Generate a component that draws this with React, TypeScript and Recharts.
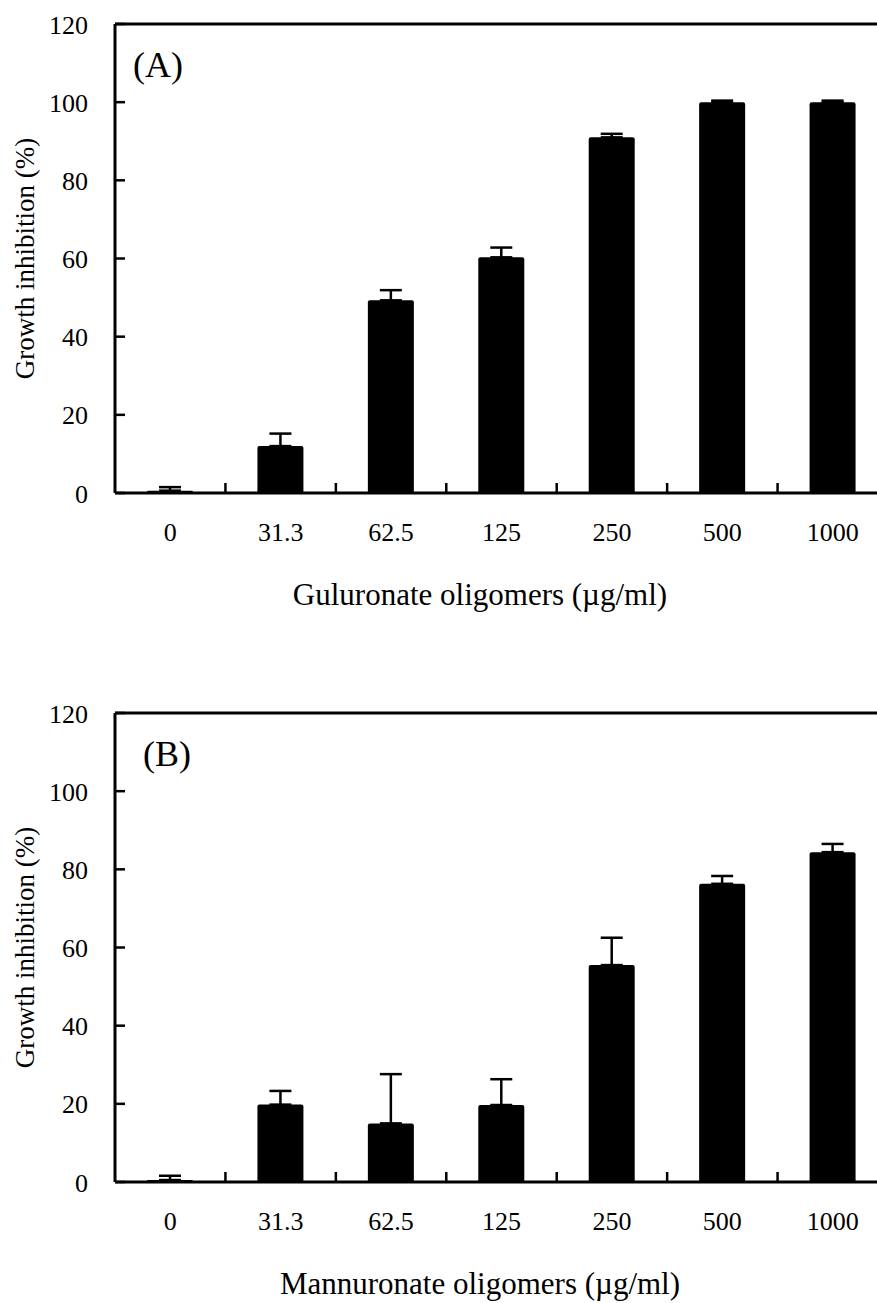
import { BarChart, Bar, XAxis, YAxis, ErrorBar, ReferenceLine } from 'recharts'

const doses = ['0', '31.3', '62.5', '125', '250', '500', '1000']
const guluronateMean = [0.6, 12, 49.3, 60.3, 91, 100, 100]
const guluronateErr = [0.9, 3.2, 2.6, 2.5, 0.9, 0.4, 0.4]
const mannuronateMean = [0.5, 19.8, 15, 19.7, 55.5, 76.3, 84.4]
const mannuronateErr = [1.1, 3.5, 12.6, 6.6, 7, 2, 2.1]
const yTicks = [0, 20, 40, 60, 80, 100, 120]

const SERIF = '"Liberation Serif", "Times New Roman", serif'
const CHART_W = 900
const Y_W = 115
const M_RIGHT = 12
const BAND = (CHART_W - Y_W - M_RIGHT) / doses.length

const XTick = (props: any) => {
  const { x, y, payload, index } = props
  const i = index ?? payload.index
  return (
    <g>
      {i > 0 && (
        <line x1={x - BAND / 2} x2={x - BAND / 2} y1={y} y2={y - 10} stroke="#000" strokeWidth={2.5} />
      )}
      <text x={x} y={y + 48} textAnchor="middle" fontSize={26} fontFamily={SERIF} fill="#000">
        {payload.value}
      </text>
    </g>
  )
}

const YTick = (props: any) => {
  const { x, y, payload } = props
  return (
    <g>
      <line x1={x} x2={x + 10} y1={y} y2={y} stroke="#000" strokeWidth={2.5} />
      <text x={x - 27} y={y + 9.5} textAnchor="end" fontSize={26} fontFamily={SERIF} fill="#000">
        {payload.value}
      </text>
    </g>
  )
}

interface PanelProps {
  top: number
  means: number[]
  errs: number[]
  title: string
  letter: string
  letterX: number
}

function Panel({ top, means, errs, title, letter, letterX }: PanelProps) {
  const data = doses.map((d, i) => ({ dose: d, value: means[i], err: [0, errs[i]] }))
  return (
    <div style={{ position: 'absolute', left: 0, top, width: CHART_W, height: 613 }}>
      <BarChart width={CHART_W} height={613} data={data} margin={{ top: 24, right: M_RIGHT, left: 0, bottom: 0 }}>
        <XAxis
          dataKey="dose"
          height={120}
          interval={0}
          tickLine={false}
          tickSize={0}
          tickMargin={0}
          axisLine={{ stroke: '#000', strokeWidth: 3 }}
          tick={<XTick />}
          label={{
            content: (p: any) => {
              const vb = p.viewBox
              return (
                <text x={480} y={vb.y + 112} textAnchor="middle" fontSize={31} fontFamily={SERIF} fill="#000">
                  {title}
                </text>
              )
            },
          }}
        />
        <YAxis
          type="number"
          domain={[0, 120]}
          ticks={yTicks}
          width={Y_W}
          interval={0}
          tickLine={false}
          tickSize={0}
          tickMargin={0}
          axisLine={{ stroke: '#000', strokeWidth: 3 }}
          tick={<YTick />}
          label={{
            content: (p: any) => {
              const vb = p.viewBox
              const cy = vb.y + vb.height / 2
              return (
                <text
                  transform={`translate(34, ${cy}) rotate(-90)`}
                  textAnchor="middle"
                  fontSize={27}
                  fontFamily={SERIF}
                  fill="#000"
                >
                  Growth inhibition (%)
                </text>
              )
            },
          }}
        />
        <ReferenceLine y={120} stroke="#000" strokeWidth={3} />
        <Bar dataKey="value" fill="#000" barSize={46} radius={[2, 2, 0, 0]} isAnimationActive={false}>
          <ErrorBar dataKey="err" width={11} stroke="#000" strokeWidth={2.5} direction="y" />
        </Bar>
      </BarChart>
      <svg width={300} height={120} style={{ position: 'absolute', left: 0, top: 0, pointerEvents: 'none' }}>
        <text x={letterX} y={77} fontSize={36} fontFamily={SERIF} fill="#000">
          {letter}
        </text>
      </svg>
    </div>
  )
}

export default function App() {
  return (
    <div
      style={{
        position: 'absolute',
        left: 0,
        top: 0,
        width: 877,
        height: 1303,
        overflow: 'hidden',
        background: '#fff',
      }}
    >
      <Panel
        top={0}
        means={guluronateMean}
        errs={guluronateErr}
        title="Guluronate oligomers (µg/ml)"
        letter="(A)"
        letterX={133}
      />
      <Panel
        top={689}
        means={mannuronateMean}
        errs={mannuronateErr}
        title="Mannuronate oligomers (µg/ml)"
        letter="(B)"
        letterX={143}
      />
    </div>
  )
}
